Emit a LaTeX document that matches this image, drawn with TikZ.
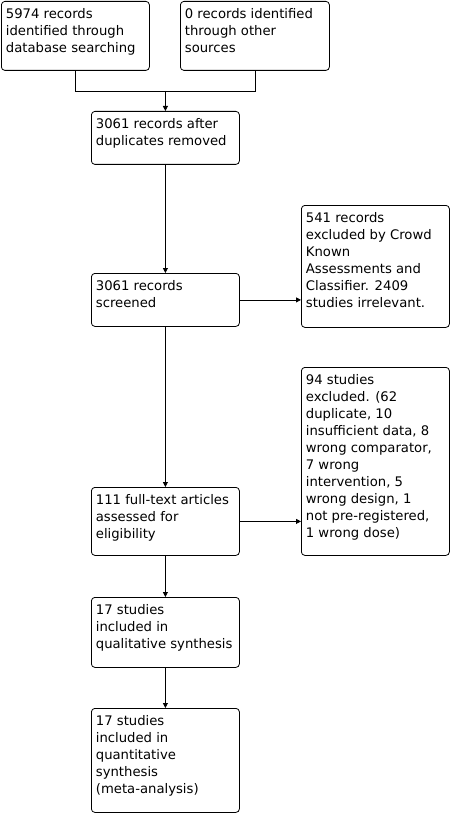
\documentclass[tikz,border=0pt]{standalone}
\usepackage{fontspec}
\setmainfont{DejaVu Sans}
\usetikzlibrary{arrows.meta}
\tikzset{
  box/.style={draw, line width=0.8pt, rounded corners=3.5pt, inner xsep=4.5pt, inner ysep=5pt, anchor=north west,
    font=\fontsize{13.2}{17}\selectfont},
  conn/.style={line width=0.8pt},
  arr/.style={conn, -{Triangle[length=5pt,width=5pt]}}
}
\newcommand{\flowbox}[6]{%
  \node[box] (#1) at (#2,-#3)
    {\parbox[t][\dimexpr #5pt-#3pt-10pt\relax][t]{\dimexpr #4pt-#2pt-9pt\relax}{\strut #6}};}
\begin{document}
\begin{tikzpicture}[x=1pt,y=1pt]
\useasboundingbox (0,0) rectangle (452,-813);
\flowbox{b1}{1}{1}{149}{70}{5974 records\\identified through\\database searching}
\flowbox{b2}{180}{1}{329}{70}{0 records identified\\through other\\sources}
\flowbox{b3}{91}{111}{239}{164}{3061 records after\\duplicates removed}
\flowbox{b4}{91}{273}{239}{326}{3061 records\\screened}
\flowbox{b5}{301}{205}{449}{327}{541 records\\excluded by Crowd\\Known\\Assessments and\\Classifier. 2409\\studies irrelevant.}
\flowbox{b6}{91}{487}{239}{555}{111 full-text articles\\assessed for\\eligibility}
\flowbox{b7}{301}{367}{449}{555}{94 studies\\excluded. (62\\duplicate, 10\\insufficient data, 8\\wrong comparator,\\7 wrong\\intervention, 5\\wrong design, 1\\not pre-registered,\\1 wrong dose)}
\flowbox{b8}{91}{597}{239}{667}{17 studies\\included in\\qualitative synthesis}
\flowbox{b9}{91}{708}{239}{812}{17 studies\\included in\\quantitative\\synthesis\\(meta-analysis)}
\coordinate (m) at (b3.north |- 0,-91);
\draw[conn] (b1.south) |- (m);
\draw[conn] (b2.south) |- (m);
\draw[arr] (m) -- (b3.north);
\draw[arr] (b3.south) -- (b4.north);
\draw[arr] (b4.east) -- (b4.east -| b5.west);
\draw[arr] (b4.south) -- (b6.north);
\draw[arr] (b6.east) -- (b6.east -| b7.west);
\draw[arr] (b6.south) -- (b8.north);
\draw[arr] (b8.south) -- (b9.north);
\end{tikzpicture}
\end{document}
